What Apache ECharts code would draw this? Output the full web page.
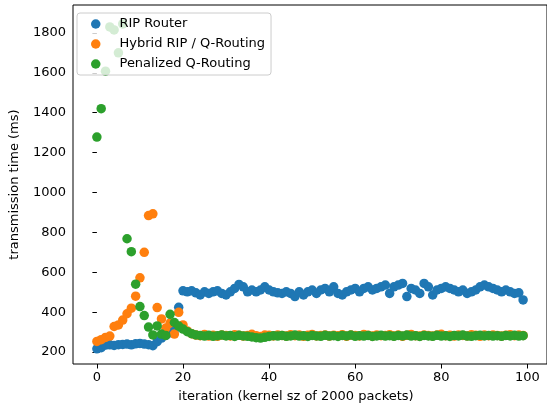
<!DOCTYPE html>
<html>
<head>
<meta charset="utf-8">
<script src="https://cdn.jsdelivr.net/npm/echarts/dist/echarts.min.js"></script>
<style>
  html, body { margin: 0; padding: 0; background: #fff; }
  #chart { width: 547px; height: 408px; }
</style>
</head>
<body>
<div id="chart"></div>
<script>
// ---- Data ----
const seriesNames = ["RIP Router", "Hybrid RIP / Q-Routing", "Penalized Q-Routing"];
const xTicks = [0, 20, 40, 60, 80, 100];
const yTicks = [200, 400, 600, 800, 1000, 1200, 1400, 1600, 1800];

const ripRouter = [
  216, 222, 235, 236, 233, 237, 238, 240, 236, 241,
  243, 240, 237, 232, 252, 270, 283, 297, 311, 424,
  507, 502, 507, 497, 486, 502, 494, 502, 507, 494,
  486, 502, 519, 539, 527, 502, 511, 502, 511, 527,
  511, 502, 497, 494, 502, 494, 478, 502, 486, 502,
  511, 494, 511, 519, 502, 527, 494, 486, 502, 511,
  519, 502, 519, 527, 511, 519, 527, 536, 494, 527,
  536, 544, 478, 519, 511, 494, 544, 527, 486, 511,
  519, 527, 519, 511, 502, 511, 494, 502, 511, 527,
  536, 527, 519, 511, 502, 511, 502, 494, 497, 461
];
const hybrid = [
  253, 262, 273, 280, 328, 336, 360, 392, 420, 480,
  572, 700, 884, 893, 423, 366, 320, 345, 290, 399,
  336, 306, 292,
  285, 282, 288, 280, 284, 279, 286, 283, 281, 287,
  284, 280, 283, 289, 282, 278, 285, 284, 281, 286,
  283, 280, 287, 282, 285, 279, 284, 288, 281, 283,
  286, 280, 284, 282, 287, 279, 285, 283, 281, 288,
  284, 280, 286, 282, 283, 287, 281, 285, 279, 284,
  288, 282, 280, 286, 283, 281, 285, 289, 282, 284,
  280, 286, 283, 281, 287, 284, 279, 285, 282, 286,
  283, 280, 284, 287, 282, 285, 283
];
const penalized = [
  1278, 1420, 1608, 1830, 1815, 1700, 1845, 768, 703, 540,
  428, 383, 325, 286, 331, 290, 283, 389, 348, 330,
  315, 302, 292,
  286, 283, 280, 284, 279, 282, 285, 281, 283, 278,
  284, 281, 279, 276, 272, 270, 274, 278, 282, 280,
  283, 279, 281, 285, 280, 282, 278, 283, 281, 279,
  284, 280, 282, 278, 283, 281, 285, 279, 282, 280,
  283, 278, 281, 284, 280, 282, 279, 283, 281, 285,
  280, 282, 278, 283, 281, 279, 284, 280, 282, 278,
  283, 281, 285, 280, 279, 282, 284, 281, 283, 280,
  282, 279, 283, 281, 284, 280, 282
];
const colors = ["#1f77b4", "#ff7f0e", "#2ca02c"];

// ---- Chart ----
const chart = echarts.init(document.getElementById('chart'), null, { renderer: 'canvas' });
const toPoints = arr => arr.map((v, i) => [i, v]);
const font = "'DejaVu Sans', sans-serif";
const plain = v => String(v);

chart.setOption({
  animation: false,
  backgroundColor: '#ffffff',
  textStyle: { fontFamily: font },
  grid: {
    left: 70, top: 5, bottom: 42, right: -5,
    show: true, borderColor: '#000', borderWidth: 1, backgroundColor: 'transparent'
  },
  legend: {
    orient: 'vertical',
    left: 77, top: 13,
    padding: [4, 6, 4, 14],
    itemWidth: 9.5, itemHeight: 9.5, itemGap: 6,
    icon: 'circle',
    backgroundColor: 'rgba(255,255,255,0.8)',
    borderColor: '#cccccc', borderWidth: 1, borderRadius: 3,
    textStyle: { fontFamily: font, fontSize: 13, color: '#000', lineHeight: 14, padding: [0, 0, 0, 14] },
    data: seriesNames
  },
  xAxis: {
    type: 'value', min: -5.55, max: 104.55,
    name: 'iteration (kernel sz of 2000 packets)',
    nameLocation: 'middle', nameGap: 26,
    nameTextStyle: { fontFamily: font, fontSize: 13, color: '#000', padding: [0, 28, 0, 0] },
    axisLine: { show: false },
    axisTick: { show: true, length: 4.5, lineStyle: { color: '#000' }, customValues: xTicks },
    axisLabel: { fontFamily: font, fontSize: 13, color: '#000', margin: 7, customValues: xTicks, formatter: plain },
    splitLine: { show: false }
  },
  yAxis: {
    type: 'value', min: 140, max: 1940,
    name: 'transmission time (ms)',
    nameLocation: 'middle', nameGap: 52,
    nameTextStyle: { fontFamily: font, fontSize: 13, color: '#000' },
    axisLine: { show: false },
    axisTick: { show: true, length: 4.5, lineStyle: { color: '#000' }, customValues: yTicks },
    axisLabel: { fontFamily: font, fontSize: 13, color: '#000', margin: 7, customValues: yTicks, formatter: plain },
    splitLine: { show: false }
  },
  series: [
    { name: seriesNames[0], type: 'scatter', data: toPoints(ripRouter), symbolSize: 9.5, itemStyle: { color: colors[0], opacity: 1 } },
    { name: seriesNames[1], type: 'scatter', data: toPoints(hybrid), symbolSize: 9.5, itemStyle: { color: colors[1], opacity: 1 } },
    { name: seriesNames[2], type: 'scatter', data: toPoints(penalized), symbolSize: 9.5, itemStyle: { color: colors[2], opacity: 1 } }
  ]
});
</script>
</body>
</html>
